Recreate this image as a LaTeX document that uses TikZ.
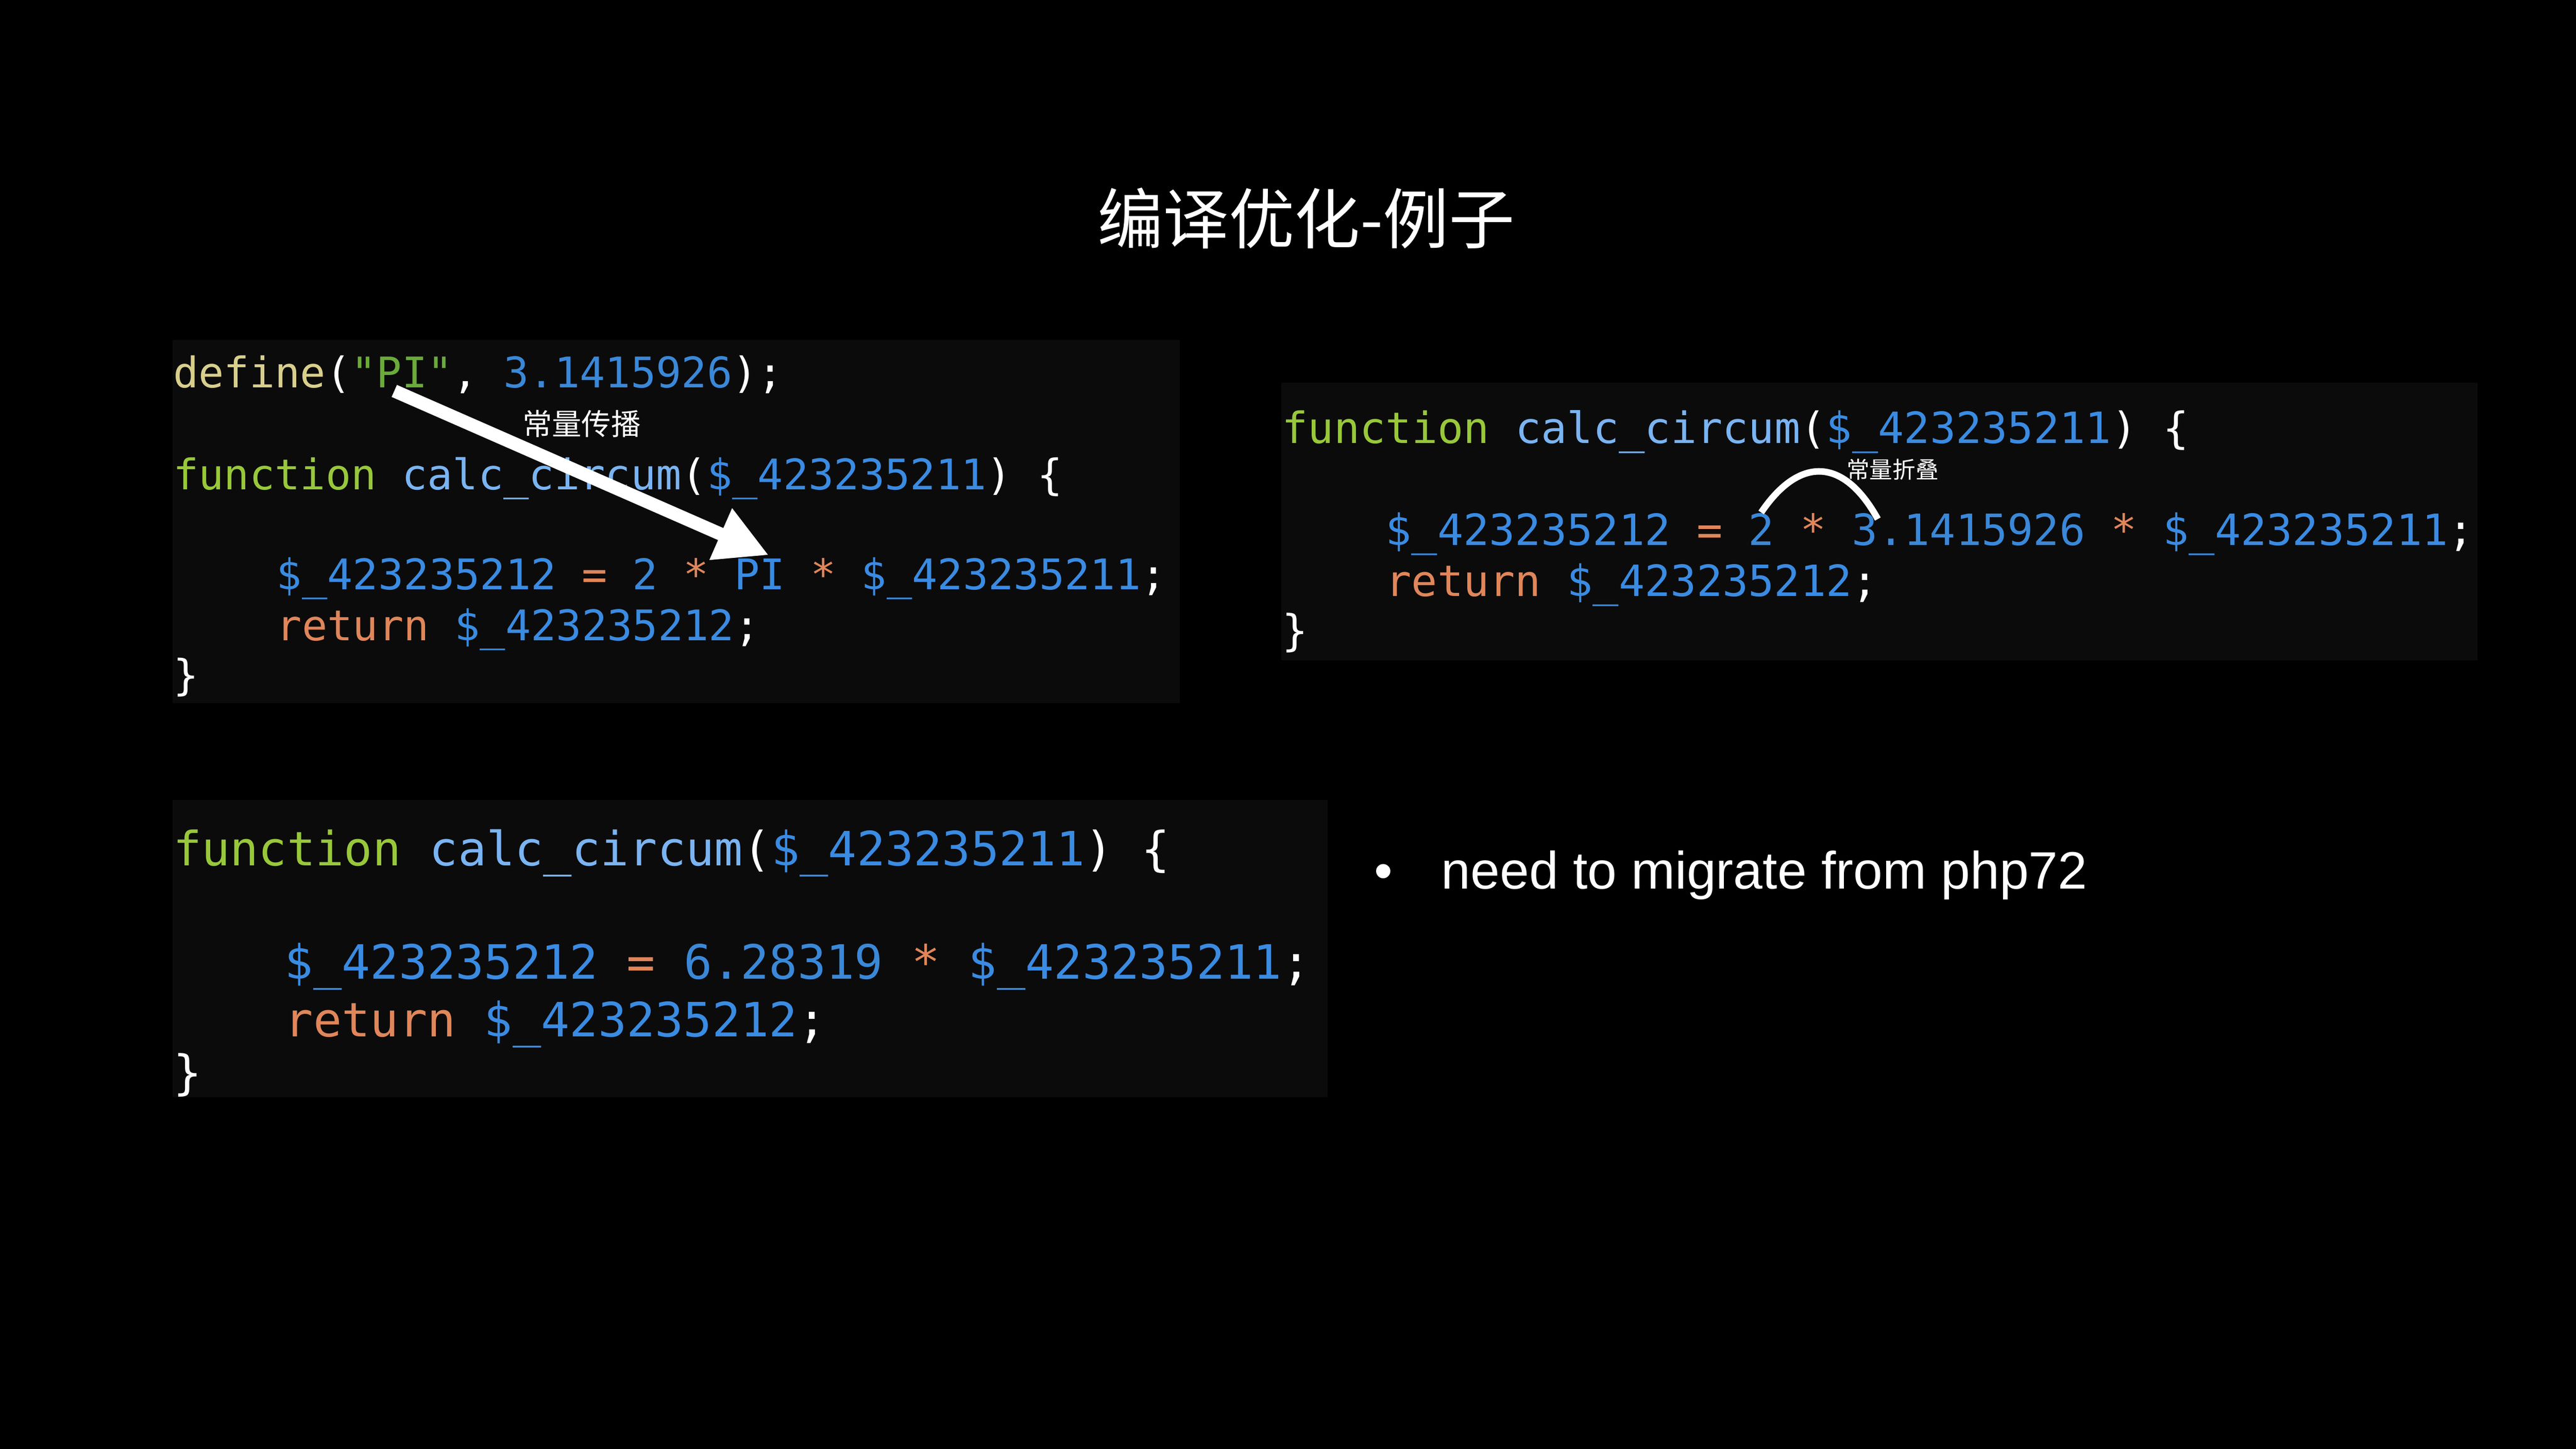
\documentclass[tikz,border=0pt]{standalone}
\usepackage{fontspec}
\newfontfamily\cjk{Noto Sans CJK SC}
\newfontfamily\cmono{DejaVu Sans Mono}
\setmainfont{Liberation Sans}
\usetikzlibrary{arrows.meta}
\definecolor{cbg}{HTML}{0B0B0B}
\definecolor{cdef}{HTML}{D8CF8C}
\definecolor{cstr}{HTML}{6AAB3A}
\definecolor{cnum}{HTML}{3A88D8}
\definecolor{ckw}{HTML}{98C83A}
\definecolor{cfn}{HTML}{7AB4F2}
\definecolor{cvar}{HTML}{3A8BE2}
\definecolor{cop}{HTML}{E0865A}
\newcommand{\Dv}[1]{\textcolor{cvar}{\$\_#1}}
\newcommand{\Op}[1]{\textcolor{cop}{#1}}
\newcommand{\Nm}[1]{\textcolor{cnum}{#1}}
\tikzset{
  codebg/.style={fill=cbg,draw=none},
  code/.style={anchor=base west,inner sep=0pt,text=white},
  lbl/.style={text=white,inner sep=0pt,font=\cjk}
}
\begin{document}
\begin{tikzpicture}[x=0.5pt,y=-0.5pt]
\fill[black] (0,0) rectangle (1568,882);
\useasboundingbox (0,0) rectangle (1568,882);
\node[lbl,font=\cjk\fontsize{20}{24}\selectfont] (title) at (795,133) {编译优化-例子};
% block 1
\fill[codebg] (105,207) rectangle (718,428);
\begin{scope}[every node/.style={code,font=\cmono\fontsize{12.85}{15}\selectfont}]
\node (a1) at (105,236) {\textcolor{cdef}{define}(\textcolor{cstr}{"PI"}, \Nm{3.1415926});};
\node (a2) at (105,298) {\textcolor{ckw}{function} \textcolor{cfn}{calc\_circum}(\Dv{423235211}) \{};
\node (a3) at (168,359) {\Dv{423235212} \Op{=} \Nm{2} \Op{*} \textcolor{cvar}{PI} \Op{*} \Dv{423235211};};
\node (a4) at (168,390) {\Op{return} \Dv{423235212};};
\node (a5) at (105,420) {\}};
\end{scope}
% block 2
\fill[codebg] (780,233) rectangle (1508,402);
\begin{scope}[every node/.style={code,font=\cmono\fontsize{13.1}{15}\selectfont}]
\node (b1) at (780,270) {\textcolor{ckw}{function} \textcolor{cfn}{calc\_circum}(\Dv{423235211}) \{};
\node (b2) at (843,332) {\Dv{423235212} \Op{=} \Nm{2} \Op{*} \Nm{3.1415926} \Op{*} \Dv{423235211};};
\node (b3) at (843,363) {\Op{return} \Dv{423235212};};
\node (b4) at (780,393) {\}};
\end{scope}
% block 3
\fill[codebg] (105,487) rectangle (808,668);
\begin{scope}[every node/.style={code,font=\cmono\fontsize{14.4}{17}\selectfont}]
\node (c1) at (105,527) {\textcolor{ckw}{function} \textcolor{cfn}{calc\_circum}(\Dv{423235211}) \{};
\node (c2) at (173,596) {\Dv{423235212} \Op{=} \Nm{6.28319} \Op{*} \Dv{423235211};};
\node (c3) at (173,631) {\Op{return} \Dv{423235212};};
\node (c4) at (105,663) {\}};
\end{scope}
% annotations
\coordinate (p1) at (240,238);
\coordinate (p2) at (468,338);
\draw[white,line width=4pt,-{Triangle[length=16pt,width=16pt]}] (p1) -- (p2);
\node[lbl,font=\cjk\fontsize{9}{11}\selectfont] (l1) at (354,258) {常量传播};
\coordinate (q1) at (1072,312);
\coordinate (q2) at (1143,316);
\draw[white,line width=2pt] (q1) .. controls (1095,278) and (1122,278) .. (q2);
\node[lbl,font=\cjk\fontsize{7}{9}\selectfont] (l2) at (1152,286) {常量折叠};
% bullet
\node[text=white,anchor=base west,inner sep=0pt,font=\fontsize{16}{19}\selectfont] (bul) at (836,541) {•};
\node[text=white,anchor=base west,inner sep=0pt,font=\fontsize{16}{19}\selectfont] (btx) at (877,541) {need to migrate from php72};
\end{tikzpicture}
\end{document}
